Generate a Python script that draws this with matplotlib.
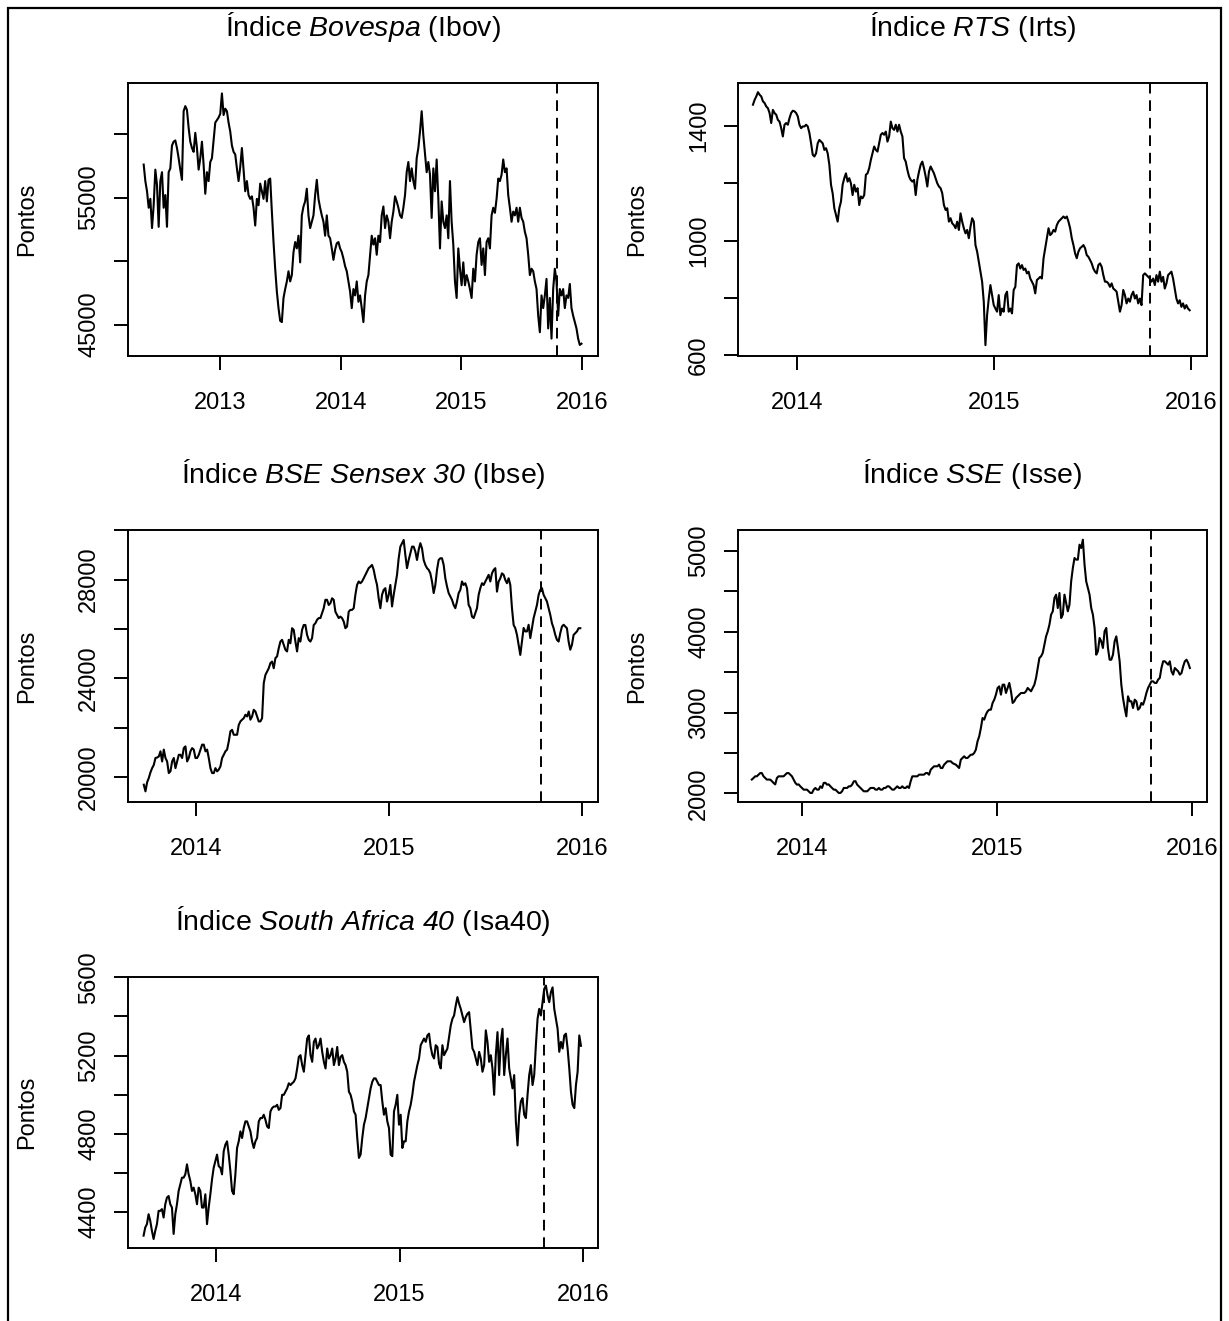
import numpy as np
import matplotlib
matplotlib.use("Agg")
import matplotlib.pyplot as plt
from matplotlib.patches import Rectangle

plt.rcParams['font.family'] = ['Liberation Sans', 'DejaVu Sans']
# everything inside $...$ is the italic part of a title (digits included)
plt.rcParams['mathtext.fontset'] = 'custom'
plt.rcParams['mathtext.rm'] = 'Liberation Sans:italic'
plt.rcParams['mathtext.it'] = 'Liberation Sans:italic'

# time axis in decimal years, one reading per equal time step
split_date = 2015.79

ibov_span = (2012.367, 2015.996)
ibov = [57600, 56300, 55500, 54200, 54900, 52600, 54400, 57200, 56000, 52700,
        56300, 57000, 54200, 55200, 52700, 57000, 57300, 59100, 59400, 59500,
        58900, 58100, 57200, 56400, 61800, 62200, 61900, 60500, 59400, 58900,
        58600, 60100, 58900, 57200, 58100, 59400, 57600, 55300, 57000, 56300,
        57800, 58100, 59500, 60900, 61100, 61300, 61600, 63200, 61500, 62000,
        61800, 60900, 60200, 59100, 58600, 58400, 57300, 56300, 57400, 58900,
        57200, 55500, 56300, 55200, 54900, 55100, 54200, 52800, 54900, 54400,
        56100, 55500, 54900, 56300, 54700, 56400, 56500, 53900, 51500, 49400,
        47600, 46300, 45300, 45200, 47100, 47800, 48400, 49200, 48400, 48900,
        50700, 51500, 51000, 52000, 49900, 53600, 54300, 54700, 55700, 53600,
        52600, 53100, 53600, 55200, 56400, 54900, 54200, 53600, 53100, 52000,
        53600, 52000, 51800, 51000, 50100, 50900, 51400, 51500, 51000, 50700,
        50200, 49600, 49200, 48400, 47600, 46300, 47800, 47300, 48400, 46800,
        47300, 46300, 45200,
        47300, 48400, 48900, 50500, 52000, 51300, 51800, 50500, 52000, 51500,
        53600, 54300, 52600, 53600, 53100, 51800, 53100, 53900, 55100, 54700,
        54200, 53600, 53400, 54200, 55200, 57000, 57800, 56300, 57300, 56300,
        55700, 58100, 58900, 60200, 61800, 59900, 58400, 57000, 57800, 56800,
        53400, 57300, 55500, 58000, 54900, 51000, 54700, 53100, 52600, 53600,
        51800, 56300, 53100, 51300, 48400, 47100, 51000, 49400, 48100, 49900,
        48100, 48900, 48400, 47800, 47100, 49400, 48400, 50500, 51500, 51800,
        49700, 51000, 48900, 51500, 51800, 51000, 53600, 54200, 53800, 54900,
        56500, 56300, 56800, 58000, 57000, 57300, 55200, 54200, 53100, 53900,
        53600, 54200, 53100, 54200, 53400, 53100, 52300, 51800, 50500, 48900,
        49400, 49200, 48400, 47800, 45700, 44400, 47300, 46300, 47300, 48600,
        44700, 47100, 43900, 47800, 49400, 48400, 45700, 47800, 47300, 47800,
        46300, 47300, 47100, 48200, 46300, 45700, 45200, 44700, 43900, 43400,
        43500]

irts_span = (2013.774, 2015.993)
irts = [1475, 1492, 1504, 1519, 1510, 1504, 1487, 1481, 1469, 1463,
        1446, 1411, 1457, 1446, 1440, 1422, 1416, 1393, 1364, 1405,
        1411, 1405, 1428, 1446, 1454, 1452, 1446, 1434, 1405, 1393,
        1399, 1399, 1405, 1399, 1376, 1340, 1300, 1294, 1305, 1340,
        1352, 1346, 1340, 1317, 1323, 1305, 1265, 1195, 1165, 1113,
        1090, 1066, 1113, 1136, 1195, 1218, 1235, 1206, 1218, 1200,
        1159, 1195, 1171, 1183, 1124, 1154, 1148, 1159, 1230, 1235,
        1253, 1282, 1305, 1329, 1317, 1311, 1340, 1370, 1376, 1370,
        1381, 1346, 1364, 1416, 1393, 1387, 1405, 1381, 1405, 1381,
        1364, 1288, 1276, 1247, 1224, 1212, 1206, 1212, 1159, 1212,
        1241, 1265, 1276, 1253, 1224, 1189, 1241, 1259, 1247, 1235,
        1218, 1200, 1189, 1183, 1165, 1124, 1107, 1113, 1066, 1078,
        1060, 1054, 1043, 1066, 1037, 1095, 1066, 1043, 1025, 1037,
        1008, 1048, 1078, 1066, 984,
        961, 926, 891, 856, 786, 634, 739, 797, 844, 809,
        774, 762, 751, 809, 739, 762, 751, 809, 821, 751,
        762, 745, 827, 838, 914, 920, 902, 914, 897, 902,
        885, 891, 867, 856, 844, 815, 862, 867, 873, 867,
        938, 973, 1008, 1043, 1019, 1025, 1037, 1031, 1054, 1066,
        1072, 1078, 1084, 1078, 1084, 1066, 1043, 1008, 984, 955,
        938, 961, 973, 978, 984, 973, 949, 943, 932, 920,
        902, 891, 885, 914, 920, 908, 879, 856, 856, 850,
        838, 850, 832, 827, 821, 786, 751, 774, 827, 809,
        780, 797, 786, 809, 821, 797, 809, 780, 797, 774,
        879, 885, 879, 873, 867, 856, 867, 844, 879, 856,
        891, 856, 873, 832, 850, 879, 885, 891, 867, 832,
        797, 780, 791, 768, 780, 762, 774, 762, 756]

# for the next three series: readings on the steps and halfway between them
ibse_span = (2013.727, 2015.992)
ibse_on = [19700, 19800, 20200, 20500, 20800, 21050, 21120, 20640, 20240, 20780,
           20640, 20910, 21180, 20640, 21050, 21120, 20780, 21120, 21320, 21120,
           20370, 20170, 20240, 20440, 20910, 21120, 21860, 21720, 21720, 22260,
           22390, 22460, 22330, 22730, 22460, 22260, 23810, 24280, 24620, 24410,
           24890, 25490, 25360, 25090, 25420, 25960, 25090, 25490, 26160, 25760,
           25490, 26160, 26370, 26440, 26840, 27180, 27040, 27180, 26570, 26500,
           26300, 26100, 26770, 26840, 27780, 27850, 28050, 28320, 28520, 28390,
           27780, 26840, 27580, 27110, 27780, 27380, 28190, 29330, 29600, 28460,
           29060, 29330, 28790, 29470, 28790, 28460, 28250, 27450, 28390, 28860,
           28590, 27720, 27310, 26970, 27110, 27580, 27780, 27650, 26840, 26440,
           26840, 27650, 27780, 28050, 27920, 28390, 27510, 28050, 28190, 27850,
           27780, 26160, 25760, 24950, 26040, 25900, 25630, 26440, 26970, 27580,
           27380, 27110, 26570, 26030, 25560, 25830, 26170, 26030, 25160, 25760,
           25900, 26030]
ibse_mid = [19430, 19970, 20370, 20780, 20840, 20640, 20780, 20170, 20640, 20370,
            20910, 20780, 21250, 20780, 21180, 20780, 20910, 21320, 21050, 20780,
            20170, 20370, 20310, 20780, 21050, 21450, 21920, 21720, 22120, 22330,
            22530, 22660, 22460, 22660, 22260, 22390, 24140, 24410, 24680, 24820,
            25220, 25560, 25160, 25560, 26030, 25490, 25630, 25960, 26160, 25560,
            25630, 26230, 26440, 26640, 27180, 26970, 27240, 26700, 26440, 26440,
            26030, 26700, 26770, 27380, 27920, 27920, 28190, 28460, 28590, 28050,
            27240, 27380, 27650, 27380, 26910, 27780, 28860, 29470, 28990, 28790,
            29330, 29130, 29200, 29260, 28590, 28390, 27920, 27780, 28790, 28860,
            28050, 27450, 27180, 26840, 27450, 27920, 27850, 26970, 26500, 26640,
            27380, 27850, 27920, 28190, 28250, 28460, 27920, 28250, 27980, 28050,
            26840, 26030, 25360, 25490, 25900, 26170, 26030, 26700, 27380, 27650,
            27240, 26840, 26230, 25760, 25490, 26100, 26100, 25490, 25360, 25830,
            26030]

isse_span = (2013.740, 2015.990)
isse_on = [2170, 2210, 2230, 2250, 2190, 2170, 2150, 2110, 2210, 2210,
           2230, 2250, 2210, 2130, 2110, 2066, 2045, 2025, 2004, 2066,
           2045, 2066, 2130, 2110, 2066, 2045, 2004, 2025, 2066, 2086,
           2107, 2150, 2086, 2045, 2025, 2045, 2066, 2045, 2066, 2045,
           2066, 2086, 2045, 2066, 2066, 2086, 2066, 2066, 2210, 2210,
           2230, 2230, 2250, 2230, 2313, 2334, 2355, 2313, 2375, 2396,
           2375, 2355, 2313, 2437, 2437, 2458, 2478, 2540, 2705, 2932,
           2974, 3035, 3118, 3221, 3324, 3345, 3242, 3366, 3118, 3180,
           3221, 3242, 3263, 3283, 3304, 3428, 3675, 3737, 3943, 4088,
           4253, 4459, 4480, 4212, 4356, 4336, 4789, 4893, 5078, 5140,
           4624, 4459, 4212, 3716, 3923, 3799, 4047, 3654, 3716, 3943,
           3634, 3180, 2953, 3139, 3056, 3139, 3056, 3097, 3242, 3345,
           3386, 3366, 3428, 3634, 3614, 3634, 3469, 3531, 3469, 3572,
           3654, 3551]
isse_mid = [2189, 2210, 2250, 2210, 2169, 2169, 2128, 2189, 2210, 2210,
            2250, 2231, 2169, 2107, 2086, 2045, 2045, 2004, 2045, 2045,
            2086, 2128, 2107, 2086, 2045, 2024, 2004, 2066, 2066, 2086,
            2148, 2107, 2066, 2024, 2024, 2066, 2066, 2045, 2045, 2066,
            2086, 2066, 2045, 2086, 2066, 2066, 2086, 2148, 2210, 2210,
            2231, 2231, 2251, 2293, 2334, 2334, 2313, 2354, 2396, 2396,
            2363, 2334, 2416, 2458, 2437, 2478, 2499, 2643, 2808, 2912,
            3015, 3035, 3159, 3304, 3221, 3345, 3304, 3263, 3139, 3201,
            3242, 3242, 3304, 3263, 3345, 3551, 3696, 3840, 4005, 4212,
            4418, 4294, 4170, 4459, 4253, 4624, 4913, 4893, 5037, 4831,
            4542, 4294, 4047, 3758, 3881, 4005, 3799, 3654, 3881, 3799,
            3345, 3056, 3201, 3139, 3159, 3035, 3118, 3159, 3304, 3386,
            3366, 3407, 3551, 3634, 3592, 3510, 3551, 3510, 3489, 3634,
            3613]

isa40_span = (2013.603, 2015.990)
isa40_on = [4278, 4337, 4354, 4261, 4337, 4405, 4371, 4473, 4439, 4287,
            4439, 4541, 4575, 4643, 4558, 4524, 4439, 4507, 4422, 4337,
            4490, 4626, 4693, 4626, 4710, 4761, 4609, 4490, 4727, 4812,
            4829, 4863, 4812, 4727, 4778, 4880, 4897, 4837, 4914, 4939,
            4948, 4931, 4999, 5032, 5049, 5066, 5134, 5202, 5117, 5287,
            5202, 5270, 5236, 5287, 5168, 5236, 5202, 5151, 5244, 5193,
            5168, 5117, 4999, 4914, 4778, 4693, 4846, 4931, 5032, 5083,
            5066, 5049, 4897, 4863, 4693, 4914, 4999, 4897, 4761, 4863,
            4948, 5066, 5151, 5253, 5287, 5303, 5244, 5185, 5244, 5134,
            5202, 5236, 5354, 5405, 5499, 5439, 5371, 5414, 5329, 5219,
            5151, 5185, 5151, 5270, 5202, 4999, 5320, 5270, 5100, 5287,
            5083, 5100, 4740, 4965, 4897, 4999, 5151, 5100, 5388, 5405,
            5541, 5507, 5524, 5439, 5337, 5270, 5303, 5236, 5015, 4931,
            5117, 5250]
isa40_mid = [4320, 4388, 4303, 4303, 4405, 4414, 4439, 4481, 4422, 4388,
             4507, 4575, 4592, 4592, 4507, 4490, 4524, 4422, 4490, 4422,
             4566, 4660, 4634, 4592, 4744, 4693, 4507, 4592, 4761, 4778,
             4863, 4837, 4761, 4761, 4863, 4880, 4871, 4829, 4931, 4939,
             4922, 4999, 5015, 5058, 5058, 5083, 5193, 5151, 5202, 5303,
             5168, 5287, 5253, 5219, 5134, 5185, 5236, 5185, 5151, 5202,
             5151, 5015, 4965, 4897, 4676, 4778, 4880, 4982, 5066, 5083,
             5049, 4965, 4931, 4829, 4685, 4948, 4846, 4727, 4761, 4914,
             4999, 5109, 5185, 5270, 5270, 5312, 5202, 5253, 5159, 5253,
             5219, 5295, 5388, 5456, 5465, 5405, 5397, 5422, 5236, 5185,
             5219, 5117, 5329, 5168, 5134, 5202, 5100, 5337, 5202, 5134,
             5032, 4863, 4897, 4982, 4880, 5100, 5049, 5253, 5439, 5473,
             5558, 5473, 5549, 5388, 5219, 5236, 5312, 5134, 4948, 5049,
             5303]


def weave(on, mid):
    v = np.empty(len(on) + len(mid))
    v[0::2] = on
    v[1::2] = mid
    return v


ibse = weave(ibse_on, ibse_mid)
isse = weave(isse_on, isse_mid)
isa40 = weave(isa40_on, isa40_mid)

W, H = 1229, 1321
fig = plt.figure(figsize=(W / 100, H / 100), dpi=100)

# outer frame
fig.patches.append(Rectangle((8 / W, -0.02), (1221 - 8) / W, 1.02 - 8 / H,
                             transform=fig.transFigure, fill=False,
                             edgecolor='black', linewidth=1.6))


def panel(rect, span, values, title, xlim, ylim, yticks, ylabels, xticks):
    ax = fig.add_axes(rect)
    x = np.linspace(span[0], span[1], len(values))
    ax.plot(x, values, color='black', lw=1.5)
    ax.axvline(split_date, color='black', lw=1.4, dashes=(5.5, 3.5))
    ax.set_xlim(*xlim)
    ax.set_ylim(*ylim)
    ax.set_xticks(xticks)
    ax.set_xticklabels([str(t) for t in xticks], fontsize=17)
    ax.set_yticks(yticks)
    ax.set_yticklabels(ylabels, fontsize=17, rotation=90, va='center')
    ax.tick_params(direction='out', length=10, width=1.4)
    ax.tick_params(axis='x', pad=16)
    ax.tick_params(axis='y', pad=10)
    for s in ax.spines.values():
        s.set_linewidth(1.4)
    ax.set_ylabel('Pontos', fontsize=17, va='center')
    ax.yaxis.set_label_coords(-101 / 470, 0.5)
    ax.annotate(title, xy=(0.5, 1), xycoords='axes fraction',
                xytext=(0, 40), textcoords='offset points',
                ha='center', va='center', fontsize=20.5)
    return ax


left, right = 128 / W, 738 / W
wl, wr = 470 / W, 469 / W

panel([left, 1 - 356 / H, wl, 273 / H], ibov_span, ibov,
      r'Índice $Bovespa$ (Ibov)',
      (2012.237, 2016.133), (42530, 64020),
      [45000, 50000, 55000, 60000], ['45000', '', '55000', ''],
      [2013, 2014, 2015, 2016])

panel([right, 1 - 356 / H, wr, 273 / H], irts_span, irts,
      r'Índice $RTS$ (Irts)',
      (2013.698, 2016.081), (596, 1551),
      [600, 800, 1000, 1200, 1400], ['600', '', '1000', '', '1400'],
      [2014, 2015, 2016])

panel([left, 1 - 802 / H, wl, 272 / H], ibse_span, ibse,
      r'Índice $BSE\ Sensex\ 30$ (Ibse)',
      (2013.645, 2016.084), (19000, 30003),
      [20000, 22000, 24000, 26000, 28000, 30000],
      ['20000', '', '24000', '', '28000', ''],
      [2014, 2015, 2016])

panel([right, 1 - 802 / H, wr, 272 / H], isse_span, isse,
      r'Índice $SSE$ (Isse)',
      (2013.669, 2016.078), (1892, 5260),
      [2000, 2500, 3000, 3500, 4000, 4500, 5000],
      ['2000', '', '3000', '', '4000', '', '5000'],
      [2014, 2015, 2016])

panel([left, 1 - 1248 / H, wl, 271 / H], isa40_span, isa40,
      r'Índice $South\ Africa\ 40$ (Isa40)',
      (2013.518, 2016.083), (4215, 5602),
      [4400, 4600, 4800, 5000, 5200, 5400, 5600],
      ['4400', '', '4800', '', '5200', '', '5600'],
      [2014, 2015, 2016])

fig.savefig('out.png', dpi=100)
